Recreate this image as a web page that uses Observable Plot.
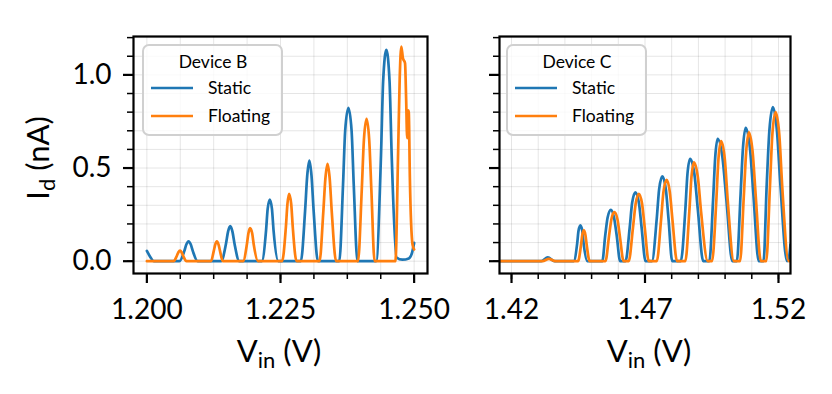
<!DOCTYPE html>
<html><head><meta charset="utf-8">
<script src="https://cdn.jsdelivr.net/npm/d3@7"></script>
<script src="https://cdn.jsdelivr.net/npm/@observablehq/plot@0.6"></script>
<style>
body{margin:0;background:#fff;}
#fig{position:relative;width:832px;height:394px;overflow:hidden;background:#fff;}
#fig svg{position:absolute;top:0;}
</style></head><body><div id="fig"></div>
<script>
// ---------- Data ----------
// Device B, Static
const bStaticV = [1.2000, 1.2007, 1.2013,
  1.2061, 1.2070, 1.2074, 1.2078, 1.2082, 1.2086, 1.2095,
  1.2139, 1.2148, 1.2152, 1.2156, 1.2160, 1.2164, 1.2173,
  1.2215, 1.2223, 1.2226, 1.2230, 1.2234, 1.2237, 1.2246,
  1.2288, 1.2296, 1.2300, 1.2304, 1.2308, 1.2312, 1.2320,
  1.2360, 1.2367, 1.2371, 1.2377, 1.2383, 1.2387, 1.2394,
  1.2429, 1.2438, 1.2442, 1.2448, 1.2454, 1.2458, 1.2467,
  1.2478, 1.2490, 1.2496, 1.2500];
const bStaticI = [0.055, 0.02, 0,
  0, 0.054, 0.091, 0.107, 0.091, 0.054, 0,
  0, 0.094, 0.160, 0.188, 0.160, 0.094, 0,
  0, 0.166, 0.281, 0.331, 0.281, 0.166, 0,
  0, 0.270, 0.459, 0.540, 0.459, 0.270, 0,
  0, 0.412, 0.700, 0.823, 0.700, 0.412, 0,
  0, 0.568, 0.965, 1.135, 0.965, 0.568, 0.02,
  0.008, 0.015, 0.045, 0.098];
// Device B, Floating
const bFloatV = [1.2000,
  1.2050, 1.2056, 1.2059, 1.2062, 1.2065, 1.2068, 1.2074,
  1.2120, 1.2125, 1.2128, 1.2131, 1.2134, 1.2137, 1.2142,
  1.2180, 1.2187, 1.2190, 1.2193, 1.2197, 1.2200, 1.2208,
  1.2253, 1.2260, 1.2263, 1.2266, 1.2270, 1.2273, 1.2280,
  1.2323, 1.2330, 1.2334, 1.2338, 1.2342, 1.2346, 1.2354,
  1.2395, 1.2402, 1.2406, 1.2411, 1.2416, 1.2420, 1.2426,
  1.2465, 1.2470, 1.2473, 1.2476, 1.2479, 1.2483, 1.2485, 1.2487, 1.2489, 1.2490, 1.2492, 1.2497, 1.2500];
const bFloatI = [0,
  0, 0.028, 0.048, 0.057, 0.048, 0.028, 0,
  0, 0.053, 0.090, 0.106, 0.090, 0.053, 0,
  0, 0.088, 0.150, 0.177, 0.150, 0.088, 0,
  0, 0.181, 0.308, 0.362, 0.308, 0.181, 0,
  0, 0.261, 0.445, 0.523, 0.445, 0.261, 0,
  0, 0.382, 0.649, 0.764, 0.649, 0.382, 0,
  0, 0.58, 0.98, 1.152, 1.09, 1.062, 0.875, 0.66, 0.81, 0.80, 0.45, 0.09, 0.063];
// Device C, Static
const cStaticV = [1.4155, 1.4311, 1.4336, 1.4361,
  1.4433, 1.4446, 1.4451, 1.4458, 1.4465, 1.4470, 1.4484,
  1.4540, 1.4551, 1.4560, 1.4572, 1.4584, 1.4594, 1.4607,
  1.4627, 1.4643, 1.4652, 1.4664, 1.4677, 1.4687, 1.4702,
  1.4726, 1.4744, 1.4753, 1.4765, 1.4778, 1.4788, 1.4802,
  1.4834, 1.4851, 1.4859, 1.4869, 1.4885, 1.4898, 1.4918,
  1.4941, 1.4955, 1.4963, 1.4972, 1.4990, 1.5005, 1.5027,
  1.5044, 1.5058, 1.5067, 1.5077, 1.5093, 1.5106, 1.5126,
  1.5144, 1.5156, 1.5166, 1.5179, 1.5194, 1.5207, 1.5232,
  1.5238, 1.5245];
const cStaticI = [0, 0, 0.021, 0,
  0, 0.096, 0.163, 0.192, 0.163, 0.096, 0,
  0, 0.138, 0.235, 0.276, 0.235, 0.138, 0,
  0, 0.185, 0.315, 0.370, 0.315, 0.185, 0,
  0, 0.228, 0.387, 0.455, 0.387, 0.228, 0,
  0, 0.275, 0.468, 0.55, 0.468, 0.275, 0,
  0, 0.328, 0.558, 0.657, 0.558, 0.328, 0,
  0, 0.358, 0.609, 0.716, 0.609, 0.358, 0,
  0, 0.413, 0.703, 0.827, 0.703, 0.413, 0,
  0.01, 0.09];
// Device C, Floating
const cFloatV = [1.4155, 1.4316, 1.4340, 1.4364,
  1.4449, 1.4460, 1.4465, 1.4471, 1.4477, 1.4482, 1.4493,
  1.4552, 1.4565, 1.4574, 1.4585, 1.4597, 1.4606, 1.4620,
  1.4639, 1.4655, 1.4665, 1.4677, 1.4689, 1.4699, 1.4714,
  1.4744, 1.4760, 1.4769, 1.4781, 1.4793, 1.4803, 1.4820,
  1.4851, 1.4866, 1.4874, 1.4883, 1.4898, 1.4910, 1.4935,
  1.4951, 1.4967, 1.4975, 1.4985, 1.4999, 1.5010, 1.5033,
  1.5056, 1.5070, 1.5079, 1.5089, 1.5103, 1.5115, 1.5134,
  1.5154, 1.5168, 1.5177, 1.5189, 1.5203, 1.5214, 1.5238,
  1.5245];
const cFloatI = [0, 0, 0.013, 0,
  0, 0.083, 0.140, 0.165, 0.140, 0.083, 0,
  0, 0.132, 0.224, 0.263, 0.224, 0.132, 0,
  0, 0.181, 0.308, 0.362, 0.308, 0.181, 0,
  0, 0.219, 0.371, 0.437, 0.371, 0.219, 0,
  0, 0.266, 0.451, 0.531, 0.451, 0.266, 0,
  0, 0.322, 0.547, 0.644, 0.547, 0.322, 0,
  0, 0.346, 0.588, 0.692, 0.588, 0.346, 0,
  0, 0.40, 0.68, 0.80, 0.68, 0.40, 0,
  0.005];

// Ticks and labels
const bXMajor = [1.2, 1.225, 1.25];
const bXLabels = ["1.200", "1.225", "1.250"];
const bXMinor = [1.2, 1.20625, 1.2125, 1.21875, 1.225, 1.23125, 1.2375, 1.24375, 1.25];
const cXMajor = [1.42, 1.47, 1.52];
const cXLabels = ["1.42", "1.47", "1.52"];
const cXMinor = [1.42, 1.43, 1.44, 1.45, 1.46, 1.47, 1.48, 1.49, 1.50, 1.51, 1.52];
const yMajor = [0, 0.5, 1.0];
const yLabels = ["0.0", "0.5", "1.0"];
const yMinor = [0, 0.1, 0.2, 0.3, 0.4, 0.5, 0.6, 0.7, 0.8, 0.9, 1.0, 1.1, 1.2];
const seriesNames = ["Static", "Floating"];
const devices = ["Device B", "Device C"];

// ---------- Styling ----------
const BLUE = "#1f77b4", ORANGE = "#ff7f0e";
const FONT = "Lato, 'Open Sans', sans-serif";
const yDomain = [-0.066, 1.206];
const TICK_FS = 28, LABEL_FS = 31, LEG_FS = 17.5, LW = 2.7;

function panel(o) {
  const s = o.sV.map((v, k) => ({v, i: o.sI[k]}));
  const f = o.fV.map((v, k) => ({v, i: o.fI[k]}));
  const svg = Plot.plot({
    width: o.width, height: 394,
    marginLeft: o.marginLeft, marginRight: o.marginRight, marginTop: 36, marginBottom: 121,
    style: {fontFamily: FONT, background: "transparent", color: "black"},
    x: {domain: o.xDomain},
    y: {domain: yDomain},
    marks: [
      Plot.gridX(o.xMinor, {stroke: "#000", strokeOpacity: 0.1, strokeWidth: 1}),
      Plot.gridY(yMinor, {stroke: "#000", strokeOpacity: 0.1, strokeWidth: 1}),
      Plot.line(s, {x: "v", y: "i", stroke: BLUE, strokeWidth: LW, curve: "monotone-x", clip: true}),
      Plot.line(f, {x: "v", y: "i", stroke: ORANGE, strokeWidth: LW, curve: "monotone-x", clip: true}),
      Plot.frame({stroke: "#000", strokeWidth: 2.2}),
      Plot.axisX(o.xMinor, {tickSize: 6, strokeWidth: 1.5, tickFormat: () => "", label: null}),
      Plot.axisX(o.xMajor, {tickSize: 10, strokeWidth: 2.2, tickPadding: 16, fontSize: TICK_FS,
        tickFormat: d => o.xLabels[o.xMajor.indexOf(d)], label: null}),
      Plot.axisY(yMinor, {tickSize: 6, strokeWidth: 1.5, tickFormat: () => "", label: null}),
      Plot.axisY(yMajor, {tickSize: 10, strokeWidth: 2.2, tickPadding: 12, fontSize: TICK_FS,
        tickFormat: o.showY ? (d => yLabels[yMajor.indexOf(d)]) : (() => ""), label: null})
    ]
  });
  svg.style.left = o.left + "px";
  const g = d3.select(svg).append("g").attr("font-family", FONT).attr("fill", "black");
  // x-axis label V_in (V)
  const xl = g.append("text").attr("x", o.xLabelX).attr("y", 362).attr("text-anchor", "middle").attr("font-size", LABEL_FS);
  xl.append("tspan").text("V");
  xl.append("tspan").attr("font-size", 22).attr("dy", 6).text("in");
  xl.append("tspan").attr("dy", -6).text(" (V)");
  if (o.showY) {
    const yl = g.append("text").attr("transform", "translate(49,158) rotate(-90)").attr("text-anchor", "middle").attr("font-size", LABEL_FS);
    yl.append("tspan").text("I");
    yl.append("tspan").attr("font-size", 22).attr("dy", 6).text("d");
    yl.append("tspan").attr("dy", -6).text(" (nA)");
  }
  // legend
  const lx = o.legendX;
  g.append("rect").attr("x", lx).attr("y", 45).attr("width", 139).attr("height", 90).attr("rx", 6)
    .attr("fill", "white").attr("fill-opacity", 0.8).attr("stroke", "#d0d0d0").attr("stroke-width", 2);
  g.append("text").attr("x", lx + 70).attr("y", 68).attr("text-anchor", "middle").attr("font-size", LEG_FS).text(o.title);
  [[BLUE, 88], [ORANGE, 116]].forEach(([c, y], k) => {
    g.append("line").attr("x1", lx + 8).attr("x2", lx + 50).attr("y1", y).attr("y2", y).attr("stroke", c).attr("stroke-width", LW);
    g.append("text").attr("x", lx + 65).attr("y", y + 6).attr("text-anchor", "start").attr("font-size", LEG_FS).text(seriesNames[k]);
  });
  return svg;
}

const fig = document.getElementById("fig");
fig.appendChild(panel({
  width: 460, left: 0, marginLeft: 133, marginRight: 33,
  xDomain: [1.1975, 1.2525], xMajor: bXMajor, xLabels: bXLabels, xMinor: bXMinor,
  showY: true, sV: bStaticV, sI: bStaticI, fV: bFloatV, fI: bFloatI,
  title: devices[0], legendX: 143, xLabelX: 279
}));
fig.appendChild(panel({
  width: 372, left: 460, marginLeft: 39, marginRight: 42,
  xDomain: [1.4155, 1.5245], xMajor: cXMajor, xLabels: cXLabels, xMinor: cXMinor,
  showY: false, sV: cStaticV, sI: cStaticI, fV: cFloatV, fI: cFloatI,
  title: devices[1], legendX: 47, xLabelX: 189
}));
</script></body></html>
